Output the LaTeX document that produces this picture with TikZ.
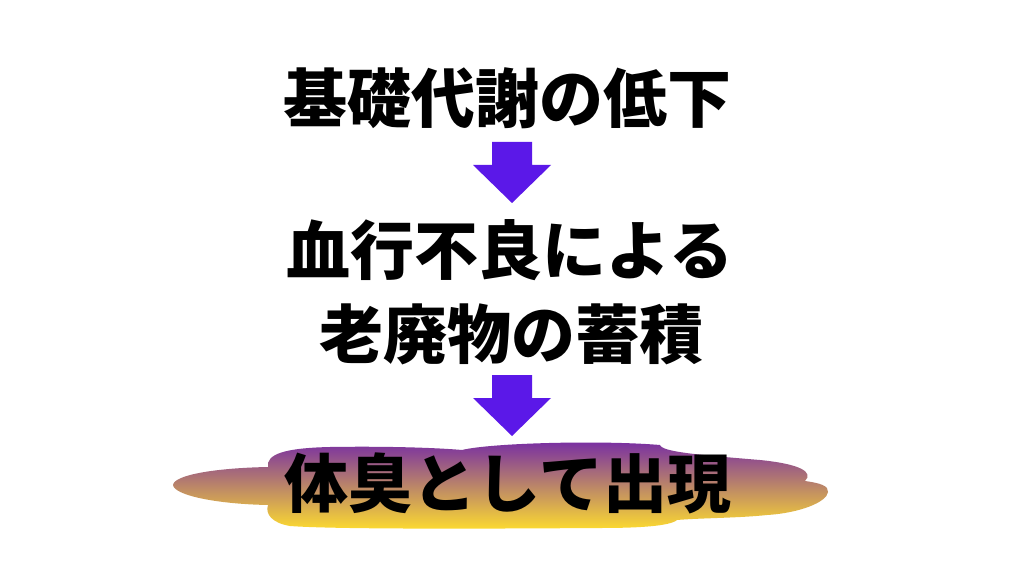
\documentclass[tikz,border=0pt]{standalone}
\usepackage{fontspec}
\newfontfamily\jpfont{Noto Sans CJK JP}
\definecolor{arrowpurple}{RGB}{91,24,232}
\definecolor{smelltop}{RGB}{118,44,164}
\definecolor{smellbot}{RGB}{252,218,48}
\tikzset{
  steptext/.style={font=\jpfont\bfseries\fontsize{64}{70}\selectfont, inner sep=0pt},
}

\begin{document}
\begin{tikzpicture}[x=1pt, y=1pt]
    \useasboundingbox (0,0) rectangle (1024,576);
    \fill[white] (0,0) rectangle (1024,576);
    % cloud behind the last line
    \shade[top color=smelltop, bottom color=smellbot]
        (173,91) .. controls (174,101) and (215,108) .. (268,109)
        .. controls (266,122) and (285,128) .. (330,129)
        .. controls (390,130) and (440,128) .. (462,126)
        .. controls (490,133) and (600,136) .. (660,131)
        .. controls (662,124) and (700,121) .. (760,116)
        .. controls (800,112) and (814,104) .. (805,95)
        .. controls (820,93) and (829,90) .. (828,84)
        .. controls (827,74) and (800,63) .. (767,61)
        .. controls (740,58) and (700,58) .. (677,56)
        .. controls (670,50) and (640,48) .. (600,48)
        .. controls (450,47) and (330,47) .. (290,50)
        .. controls (272,53) and (265,62) .. (268,71)
        .. controls (215,72) and (174,81) .. (173,91) -- cycle;
    \node[steptext] (bmr) at (507,478) {基礎代謝の低下};
    \node[steptext] (blood) at (510,326) {血行不良による};
    \node[steptext] (waste) at (511,242) {老廃物の蓄積};
    \node[steptext] (odor) at (508,93) {体臭として出現};
    % block arrows
    \foreach \y in {434,201}{
        \fill[arrowpurple] (492,\y) -- (532,\y) -- (532,\y-23) -- (551,\y-23)
            -- (512,\y-61) -- (473,\y-23) -- (492,\y-23) -- cycle;
    }
\end{tikzpicture}
\end{document}
